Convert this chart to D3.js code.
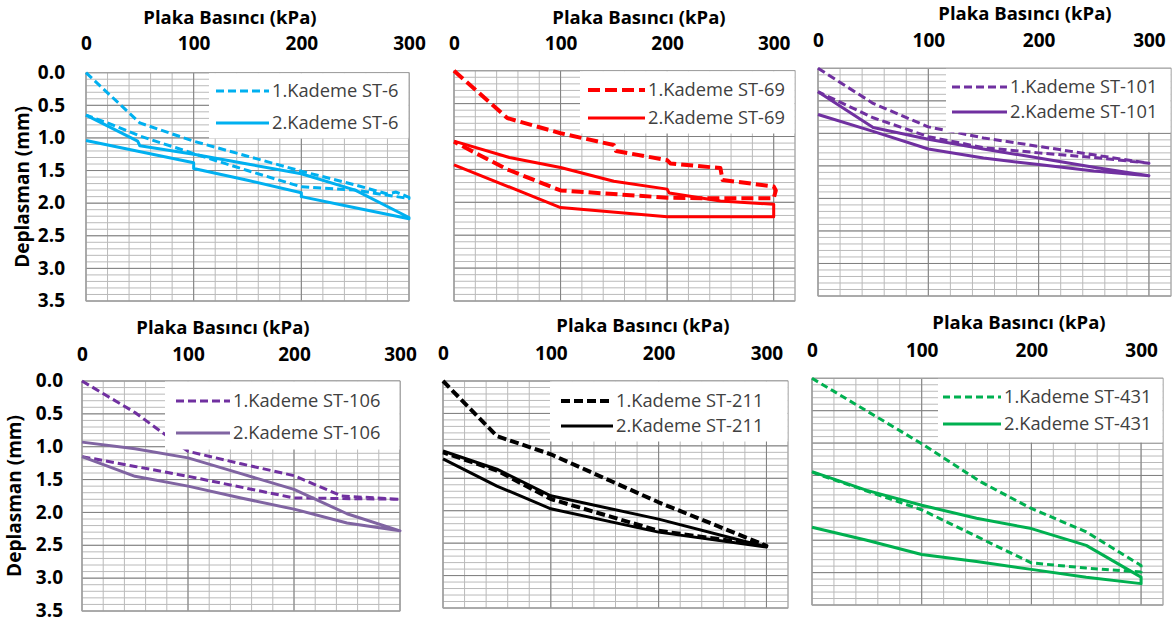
<!DOCTYPE html>
<html>
<head>
<meta charset="utf-8">
<script src="https://cdn.jsdelivr.net/npm/d3@7"></script>
<style>
  body { margin: 0; background: #fff; }
  text { font-family: "Open Sans", sans-serif; }
</style>
</head>
<body>
<svg id="chart" width="1172" height="622"></svg>
<script>
// [plate pressure kPa, displacement mm], loading then unloading
var st6K1 = [[0,0],[50,0.77],[100,1.05],[150,1.28],[200,1.51],[250,1.72],[280,1.86],[288,1.83],[300,1.91],[300,1.93],[250,1.80],[200,1.75],[150,1.50],[100,1.24],[50,0.97],[20,0.77],[0,0.65]];
var st6K2 = [[0,0.65],[48,1.05],[50,1.12],[100,1.25],[150,1.40],[200,1.55],[250,1.80],[300,2.22],[300,2.24],[250,2.07],[200,1.90],[200,1.84],[150,1.65],[100,1.47],[100,1.38],[0,1.04]];

var st69K1 = [[0,0],[50,0.72],[100,0.95],[150,1.13],[152,1.22],[200,1.36],[203,1.41],[250,1.48],[252,1.66],[300,1.76],[302,1.82],[300,1.94],[250,1.94],[200,1.93],[100,1.82],[50,1.50],[0,1.08]];
var st69K2 = [[0,1.07],[52,1.32],[100,1.47],[150,1.68],[200,1.80],[202,1.86],[250,1.98],[300,2.03],[300,2.22],[200,2.22],[100,2.08],[0,1.43]];

var st101K1 = [[0,0],[50,0.54],[100,0.90],[150,1.07],[200,1.20],[250,1.33],[300,1.46],[250,1.37],[200,1.30],[150,1.22],[100,1.05],[50,0.76],[0,0.36]];
var st101K2 = [[0,0.36],[50,0.91],[100,1.09],[150,1.24],[200,1.38],[250,1.52],[300,1.65],[250,1.58],[200,1.48],[150,1.38],[100,1.24],[50,0.97],[0,0.71]];

var st106K1 = [[0,0],[50,0.48],[100,1.07],[150,1.26],[200,1.44],[245,1.75],[300,1.80],[200,1.78],[100,1.45],[50,1.30],[0,1.15]];
var st106K2 = [[0,0.93],[50,1.03],[100,1.17],[150,1.41],[200,1.65],[250,2.02],[300,2.28],[250,2.16],[200,1.95],[150,1.78],[100,1.60],[50,1.45],[0,1.15]];

var st211K1 = [[0,0],[50,0.85],[100,1.13],[200,1.87],[300,2.54],[200,2.31],[100,1.82],[50,1.38],[0,1.10]];
var st211K2 = [[0,1.08],[50,1.36],[100,1.77],[200,2.13],[300,2.56],[200,2.33],[100,1.97],[50,1.62],[0,1.20]];

var st431K1 = [[0,0],[100,1.01],[154,1.60],[200,2.01],[250,2.37],[300,2.89],[300,2.99],[250,2.93],[200,2.85],[100,2.03],[50,1.74],[0,1.45]];
var st431K2 = [[0,1.44],[50,1.73],[100,1.96],[150,2.16],[200,2.32],[250,2.58],[300,3.07],[300,3.17],[250,3.07],[200,2.95],[150,2.83],[100,2.72],[50,2.50],[0,2.30]];

var xTicks = [0, 100, 200, 300];
var yTicks = [0, 0.5, 1.0, 1.5, 2.0, 2.5, 3.0, 3.5];
var xTitle = "Plaka Basıncı (kPa)";
var yTitle = "Deplasman (mm)";

// layout of each small chart
var panels = [
  {name:"ST-6",   k1:st6K1,   k2:st6K2,   c1:"#00b0f0", c2:"#00b0f0", dash:"8,4",  w1:3, w2:3, xMax:300,
   left:86,  right:409,  top:72.7, bottom:301, titleX:230, titleY:23.5, tickY:49.5, yLabels:true, yLabelX:65, yTitleX:22,
   legL:209, legB:138, row1:91, row2:123, lineL:216, lineR:269},
  {name:"ST-69",  k1:st69K1,  k2:st69K2,  c1:"#ff0000", c2:"#ff0000", dash:"12,5", w1:4, w2:3, xMax:320,
   left:454, right:795,  top:70.7, bottom:301, titleX:639, titleY:23.5, tickY:49.5, yLabels:false,
   legL:580, legB:133, row1:90, row2:118, lineL:588, lineR:645},
  {name:"ST-101", k1:st101K1, k2:st101K2, c1:"#7030a0", c2:"#7030a0", dash:"8,4",  w1:3, w2:3, xMax:320,
   left:818, right:1171, top:68.3, bottom:296, titleX:1025, titleY:20, tickY:46.5, yLabels:false,
   legL:946, legB:132, row1:87, row2:112, lineL:952, lineR:1007},
  {name:"ST-106", k1:st106K1, k2:st106K2, c1:"#7030a0", c2:"#8064a2", dash:"8,4",  w1:3, w2:3, xMax:300,
   left:82,  right:400,  top:381, bottom:611, titleX:223, titleY:333.5, tickY:360.5, yLabels:true, yLabelX:63, yTitleX:14,
   legL:165, legB:449, row1:401, row2:433, lineL:176, lineR:230},
  {name:"ST-211", k1:st211K1, k2:st211K2, c1:"#000000", c2:"#000000", dash:"9,4", w1:4, w2:3, xMax:320,
   left:443, right:788,  top:381, bottom:608, titleX:643, titleY:331.5, tickY:359.5, yLabels:false,
   legL:550, legB:441, row1:401, row2:426, lineL:561, lineR:613},
  {name:"ST-431", k1:st431K1, k2:st431K2, c1:"#00b050", c2:"#00b050", dash:"7,4",  w1:3, w2:3, xMax:320,
   left:812, right:1163, top:378.3, bottom:605, titleX:1019, titleY:328.5, tickY:356.5, yLabels:false,
   legL:938, legB:442, row1:397, row2:424, lineL:943, lineR:1001}
];

var svg = d3.select("#chart");

panels.forEach(function(p) {
  var x = d3.scaleLinear().domain([0, p.xMax]).range([p.left, p.right]);
  var y = d3.scaleLinear().domain([0, 3.5]).range([p.top, p.bottom]);
  var g = svg.append("g");

  // minor grid
  g.selectAll(".vmin").data(d3.range(0, p.xMax + 1, 20)).enter().append("line")
    .attr("x1", d => x(d)).attr("x2", d => x(d)).attr("y1", p.top).attr("y2", p.bottom)
    .attr("stroke", "#bababa").attr("stroke-width", 1);
  g.selectAll(".hmin").data(d3.range(0, 36).map(i => i / 10)).enter().append("line")
    .attr("x1", p.left).attr("x2", p.right).attr("y1", d => y(d)).attr("y2", d => y(d))
    .attr("stroke", "#bababa").attr("stroke-width", 1);
  // major grid
  g.selectAll(".vmaj").data(xTicks).enter().append("line")
    .attr("x1", d => x(d)).attr("x2", d => x(d)).attr("y1", p.top).attr("y2", p.bottom)
    .attr("stroke", "#808080").attr("stroke-width", 1);
  g.selectAll(".hmaj").data(yTicks).enter().append("line")
    .attr("x1", p.left).attr("x2", p.right).attr("y1", d => y(d)).attr("y2", d => y(d))
    .attr("stroke", "#808080").attr("stroke-width", 1);
  g.append("rect").attr("x", p.left).attr("y", p.top)
    .attr("width", p.right - p.left).attr("height", p.bottom - p.top)
    .attr("fill", "none").attr("stroke", "#a6a6a6").attr("stroke-width", 1);

  // series
  var line = d3.line().x(d => x(d[0])).y(d => y(d[1]));
  g.append("path").datum(p.k1).attr("d", line).attr("fill", "none")
    .attr("stroke", p.c1).attr("stroke-width", p.w1).attr("stroke-dasharray", p.dash)
    .attr("stroke-linejoin", "round");
  g.append("path").datum(p.k2).attr("d", line).attr("fill", "none")
    .attr("stroke", p.c2).attr("stroke-width", p.w2).attr("stroke-linejoin", "round");

  // top axis
  var xAxis = g.append("g").attr("transform", `translate(0, ${p.tickY})`)
    .call(d3.axisTop(x).tickValues(xTicks).tickSize(0).tickPadding(0));
  xAxis.select(".domain").remove();
  xAxis.selectAll("text").attr("dy", "0").attr("y", 0)
    .attr("font-family", "Open Sans").attr("font-size", 19).attr("font-weight", "bold").attr("fill", "#000");
  xAxis.attr("font-family", null).attr("font-size", null);

  g.append("text").attr("x", p.titleX).attr("y", p.titleY).attr("text-anchor", "middle")
    .attr("font-size", 18.5).attr("font-weight", "bold").attr("fill", "#000").text(xTitle);

  if (p.yLabels) {
    var yAxis = g.append("g").attr("transform", `translate(${p.yLabelX}, 0)`)
      .call(d3.axisLeft(y).tickValues(yTicks).tickFormat(d3.format(".1f")).tickSize(0).tickPadding(0));
    yAxis.select(".domain").remove();
    yAxis.selectAll("text").attr("font-family", "Open Sans").attr("font-size", 19)
      .attr("font-weight", "bold").attr("fill", "#000").attr("dy", "0.3em");
    yAxis.attr("font-family", null).attr("font-size", null);
    g.append("text").attr("transform", `translate(${p.yTitleX}, ${(p.top + p.bottom) / 2}) rotate(-90)`)
      .attr("text-anchor", "middle").attr("dy", "0.35em")
      .attr("font-size", 19).attr("font-weight", "bold").attr("fill", "#000").text(yTitle);
  }

  // legend
  g.append("rect").attr("x", p.legL).attr("y", p.top + 0.5)
    .attr("width", p.right - p.legL - 0.5).attr("height", p.legB - p.top)
    .attr("fill", "#fff");
  [[p.row1, p.c1, p.w1, p.dash, "1.Kademe " + p.name],
   [p.row2, p.c2, p.w2, null, "2.Kademe " + p.name]].forEach(function(r) {
    g.append("line").attr("x1", p.lineL).attr("x2", p.lineR).attr("y1", r[0]).attr("y2", r[0])
      .attr("stroke", r[1]).attr("stroke-width", r[2]).attr("stroke-dasharray", r[3]);
    g.append("text").attr("x", p.lineR + 3).attr("y", r[0]).attr("dy", "0.35em")
      .attr("font-size", 18.3).attr("fill", "#404040").text(r[4]);
  });
});
</script>
</body>
</html>
